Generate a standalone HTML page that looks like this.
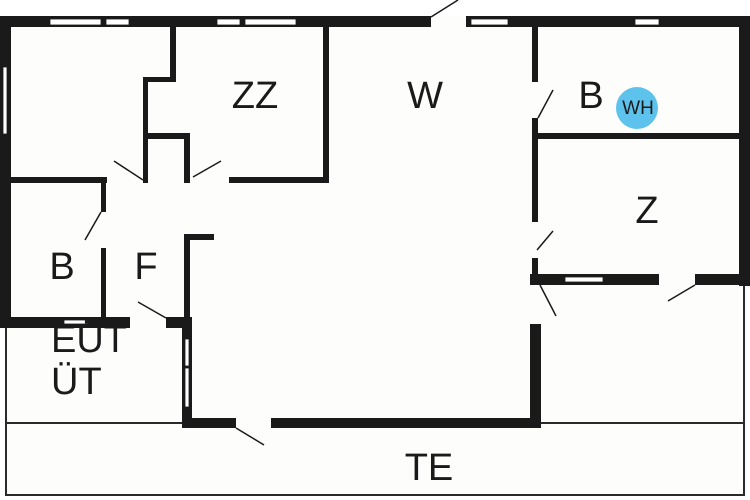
<!DOCTYPE html>
<html><head><style>html,body{margin:0;padding:0;background:#fff}svg{display:block}text{font-family:"Liberation Sans",sans-serif;fill:#1a1a1a}</style></head><body>
<svg width="750" height="500" viewBox="0 0 750 500" xmlns="http://www.w3.org/2000/svg">
<rect x="0" y="0" width="750" height="500" fill="#fff"/>
<rect x="5" y="16" width="740" height="480" fill="#fdfdfb"/>
<g fill="none" stroke="#2a2a2a" stroke-width="2">
<polyline points="6,327 6,495 744,495 744,283"/>
<line x1="6" y1="423" x2="182" y2="423"/>
<line x1="540" y1="423" x2="744" y2="423"/>
</g>
<g fill="#1a1a1a">
<!-- top wall -->
<rect x="0" y="16" width="431" height="11"/>
<rect x="466" y="16" width="284" height="11"/>
<!-- left & right outer walls -->
<rect x="0" y="16" width="11" height="312"/>
<rect x="739" y="16" width="11" height="270"/>
<!-- top-left rooms -->
<rect x="170" y="27" width="6" height="55"/>
<rect x="143" y="77" width="33" height="5"/>
<rect x="143" y="77" width="5" height="106"/>
<rect x="11" y="177" width="96" height="6"/>
<rect x="148" y="133" width="42" height="6"/>
<rect x="184" y="133" width="6" height="50"/>
<rect x="229" y="177" width="100" height="6"/>
<rect x="323" y="27" width="6" height="156"/>
<!-- B left -->
<rect x="101" y="177" width="5" height="35"/>
<rect x="101" y="248" width="5" height="73"/>
<rect x="0" y="317" width="130" height="11"/>
<rect x="166" y="317" width="25" height="11"/>
<rect x="182" y="317" width="10" height="111"/>
<rect x="184" y="234" width="6" height="84"/>
<rect x="184" y="234" width="30" height="6"/>
<!-- bottom wall -->
<rect x="182" y="418" width="54" height="10"/>
<rect x="271" y="418" width="270" height="10"/>
<rect x="530" y="324" width="11" height="104"/>
<!-- right column -->
<rect x="532" y="27" width="6" height="55"/>
<rect x="532" y="118" width="6" height="104"/>
<rect x="532" y="258" width="6" height="27"/>
<rect x="538" y="133" width="201" height="6"/>
<rect x="530" y="274" width="129" height="11"/>
<rect x="695" y="274" width="55" height="11"/>
</g>
<!-- windows -->
<g fill="#fff" stroke="#1a1a1a" stroke-width="0.8">
<rect x="50" y="19" width="51" height="6"/>
<rect x="106" y="19" width="23" height="6"/>
<rect x="217" y="19" width="23" height="6"/>
<rect x="245" y="19" width="51" height="6"/>
<rect x="471" y="19" width="37" height="6"/>
<rect x="635" y="19" width="24" height="6"/>
<rect x="3" y="67" width="4" height="67"/>
<rect x="64" y="320" width="24" height="4"/>
<rect x="185" y="339" width="4" height="27"/>
<rect x="185" y="368" width="4" height="39"/>
<rect x="565" y="277" width="38" height="5"/>
</g>
<!-- door swings -->
<g stroke="#1a1a1a" stroke-width="1.5">
<line x1="431" y1="17" x2="458" y2="0"/>
<line x1="114" y1="161" x2="143" y2="180"/>
<line x1="193" y1="177" x2="221" y2="161"/>
<line x1="101" y1="212" x2="85" y2="240"/>
<line x1="138" y1="302" x2="166" y2="318"/>
<line x1="236" y1="428" x2="264" y2="445"/>
<line x1="540" y1="285" x2="556" y2="316"/>
<line x1="538" y1="118" x2="553" y2="90"/>
<line x1="537" y1="250" x2="553" y2="231"/>
<line x1="668" y1="301" x2="695" y2="285"/>
</g>
<circle cx="637" cy="108" r="21" fill="#5ec3ec"/>
<g font-size="38">
<text x="255" y="108" text-anchor="middle">ZZ</text>
<text x="425" y="108" text-anchor="middle">W</text>
<text x="591" y="108" text-anchor="middle">B</text>
<text x="647" y="223" text-anchor="middle">Z</text>
<text x="62" y="279" text-anchor="middle">B</text>
<text x="146" y="279" text-anchor="middle">F</text>
<text x="51" y="352">EÜT</text>
<text x="51" y="394">ÜT</text>
<text x="429" y="480" text-anchor="middle">TE</text>
</g>
<text x="638" y="114" font-size="19" text-anchor="middle">WH</text>
</svg>
</body></html>
